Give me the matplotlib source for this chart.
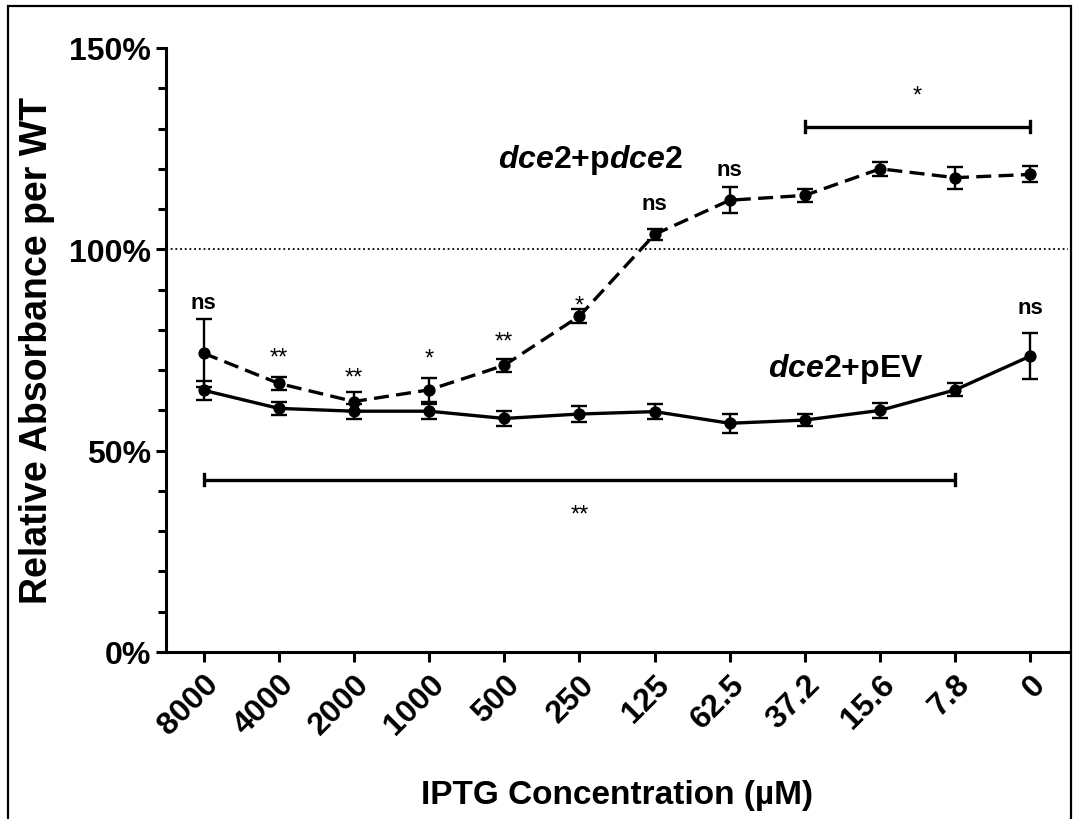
import matplotlib
matplotlib.use("Agg")
import matplotlib.pyplot as plt
from matplotlib.patches import Rectangle

plt.rcParams["font.family"] = ["Liberation Sans", "DejaVu Sans"]
plt.rcParams["mathtext.fontset"] = "custom"
plt.rcParams["mathtext.it"] = "Liberation Sans:italic:bold"
plt.rcParams["mathtext.rm"] = "Liberation Sans:bold"

# IPTG concentrations (uM), highest to lowest
conc_labels = ["8000", "4000", "2000", "1000", "500", "250", "125",
               "62.5", "37.2", "15.6", "7.8", "0"]

# dce2 + empty vector
pev_mean = [65.0, 60.5, 59.8, 59.8, 58.0, 59.1, 59.7, 56.8, 57.6, 60.0, 65.1, 73.5]
pev_err = [2.3, 1.6, 1.9, 1.9, 1.9, 2.1, 1.8, 2.3, 1.4, 1.9, 1.6, 5.7]

# dce2 + pdce2 complementation
pdce2_mean = [74.2, 66.7, 62.2, 65.1, 71.2, 83.4, 103.7, 112.2, 113.4, 120.0, 117.8, 118.6]
pdce2_err = [8.4, 1.6, 2.3, 3.0, 1.6, 1.7, 1.4, 3.2, 1.6, 1.7, 2.7, 2.0]

# significance marks: (category index, baseline y, text)
ns_marks = [(0, 85.5, "ns"), (6, 110.1, "ns"), (7, 118.4, "ns"), (11, 84.3, "ns")]
star_marks = [(1, 71.6, "**"), (2, 66.6, "**"), (3, 71.4, "*"), (4, 75.5, "**"), (5, 84.6, "*")]

# brackets: (first index, last index, bracket y, text baseline y, text)
brackets = [(8, 11, 130.5, 136.6, "*"), (0, 10, 42.8, 32.6, "**")]

x = list(range(len(conc_labels)))

fig = plt.figure(figsize=(10.78, 8.2), dpi=100)
ax = fig.add_axes([166 / 1078, 1 - 653 / 820, (1068 - 166) / 1078, (653 - 49) / 820])

# outer frame
fig.patches.append(Rectangle((8 / 1078, -0.05), (1071 - 8) / 1078, 1.05 - 7 / 820,
                             transform=fig.transFigure, fill=False, lw=1.6,
                             edgecolor="black", clip_on=False))

ax.axhline(100, color="black", lw=1.3, linestyle=(0, (1, 1.6)), zorder=1)

ax.errorbar(x, pev_mean, yerr=pev_err, color="black", lw=2.4, marker="o",
            markersize=7.8, capsize=5.5, elinewidth=1.7, capthick=1.7, zorder=3)
ax.errorbar(x, pdce2_mean, yerr=pdce2_err, color="black", lw=2.4, marker="o",
            markersize=7.8, capsize=5.5, elinewidth=1.7, capthick=1.7,
            linestyle=(0, (4.5, 2.2)), zorder=3)

for i, yb, t in ns_marks:
    ax.text(i, yb, t, ha="center", va="baseline", fontsize=16, fontweight="bold")
for i, yb, t in star_marks:
    ax.text(i, yb, t, ha="center", va="baseline", fontsize=17)

for i0, i1, yb, yt, t in brackets:
    ax.plot([i0, i1], [yb, yb], color="black", lw=2.4, solid_capstyle="butt")
    for i in (i0, i1):
        ax.plot([i, i], [yb - 1.4, yb + 1.4], color="black", lw=2.4)
    ax.text((i0 + i1) / 2, yt, t, ha="center", va="baseline", fontsize=17)

ax.text(5.15, 120.5, r"$dce2$+p$dce2$", ha="center", va="baseline",
        fontsize=23, fontweight="bold")
ax.text(8.55, 68.5, r"$dce2$+pEV", ha="center", va="baseline",
        fontsize=23, fontweight="bold")

ax.set_xlim(-0.5, 11.5)
ax.set_ylim(0, 150)
ax.set_xticks(x)
ax.set_xticklabels(conc_labels, rotation=45, ha="right", va="top",
                   rotation_mode="anchor", fontsize=23, fontweight="bold")
ax.set_yticks([0, 50, 100, 150])
ax.set_yticklabels(["0%", "50%", "100%", "150%"], fontsize=23, fontweight="bold")
ax.set_yticks(range(0, 151, 10), minor=True)

for s in ("top", "right"):
    ax.spines[s].set_visible(False)
for s in ("left", "bottom"):
    ax.spines[s].set_linewidth(2.2)
ax.tick_params(axis="both", which="major", length=7, width=2.2)
ax.tick_params(axis="y", which="minor", length=6, width=2.2)
ax.tick_params(axis="y", pad=4)
ax.tick_params(axis="x", pad=5)

ax.set_ylabel("Relative Absorbance per WT", fontsize=27, fontweight="bold", labelpad=10)
ax.set_xlabel("IPTG Concentration (µM)", fontsize=24, fontweight="bold", labelpad=28)

fig.savefig("out.png", dpi=100)
